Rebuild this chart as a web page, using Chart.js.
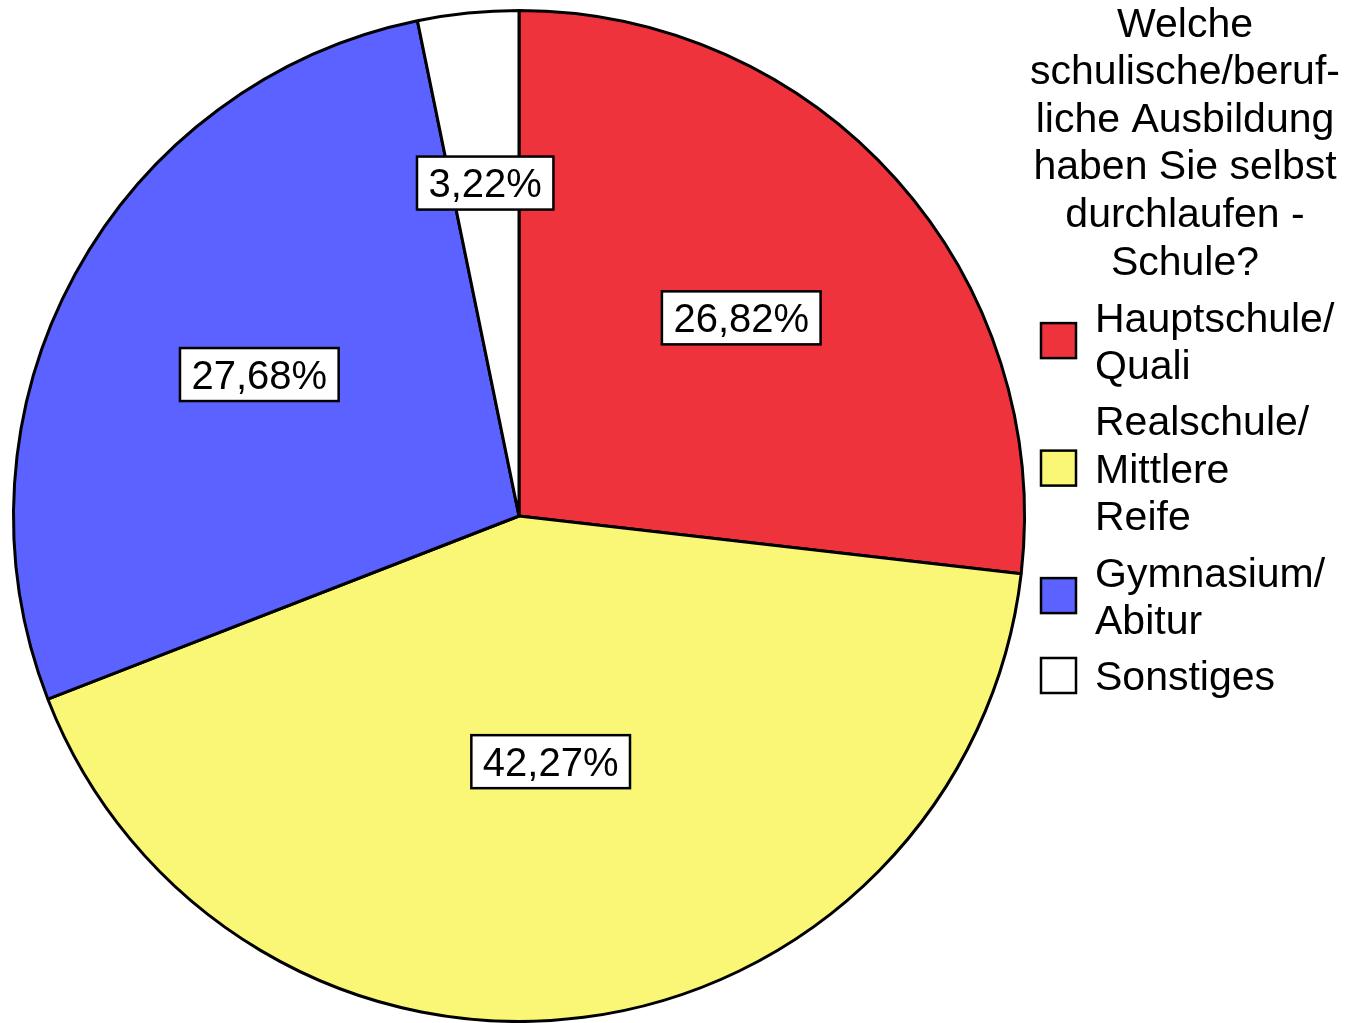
<!DOCTYPE html>
<html>
<head>
<meta charset="utf-8">
<script src="https://cdn.jsdelivr.net/npm/chart.js@4"></script>
<style>
  html, body { margin: 0; padding: 0; background: #fff; }
  #wrap { width: 1346px; height: 1023px; position: relative; }
</style>
</head>
<body>
<div id="wrap"><canvas id="pieChart"></canvas></div>
<script>
// Daten
const categories = [
  ['Hauptschule/', 'Quali'],
  ['Realschule/', 'Mittlere', 'Reife'],
  ['Gymnasium/', 'Abitur'],
  ['Sonstiges']
];
const percentages = [26.82, 42.27, 27.68, 3.22];
const sliceColors = ['#EF333C', '#F9F775', '#5C62FF', '#FFFFFF'];
const titleLines = ['Welche', 'schulische/beruf-', 'liche Ausbildung', 'haben Sie selbst', 'durchlaufen -', 'Schule?'];

const LABEL_FONT = '40px "Liberation Sans", Arial, sans-serif';
const LEGEND_FONT = '41px "Liberation Sans", Arial, sans-serif';

// Prozent-Labels in weissen Kästchen
const boxLabels = {
  id: 'boxLabels',
  afterDatasetsDraw(chart, args, opts) {
    const ctx = chart.ctx;
    const meta = chart.getDatasetMeta(0);
    ctx.save();
    ctx.font = LABEL_FONT;
    ctx.textAlign = 'center';
    ctx.textBaseline = 'alphabetic';
    meta.data.forEach((arc, i) => {
      const p = arc.getProps(['x', 'y', 'startAngle', 'endAngle', 'outerRadius'], true);
      const mid = (p.startAngle + p.endAngle) / 2;
      const r = p.outerRadius * opts.radii[i];
      const cx = p.x + Math.cos(mid) * r;
      const cy = p.y + Math.sin(mid) * r;
      const txt = percentages[i].toFixed(2).replace('.', ',') + '%';
      const w = ctx.measureText(txt).width + 23;
      const h = 53;
      ctx.fillStyle = '#fff';
      ctx.fillRect(cx - w / 2, cy - h / 2, w, h);
      ctx.lineWidth = 2.5;
      ctx.strokeStyle = '#000';
      ctx.strokeRect(cx - w / 2, cy - h / 2, w, h);
      ctx.fillStyle = '#000';
      ctx.fillText(txt, cx, cy + 14.3);
    });
    ctx.restore();
  }
};

// Legende rechts mit Titel
const sideLegend = {
  id: 'sideLegend',
  afterDraw(chart) {
    const ctx = chart.ctx;
    const step = 47.6;
    ctx.save();
    ctx.font = LEGEND_FONT;
    ctx.fillStyle = '#000';
    ctx.textBaseline = 'alphabetic';
    ctx.textAlign = 'center';
    titleLines.forEach((t, i) => ctx.fillText(t, 1185, 36.5 + i * step));

    ctx.textAlign = 'left';
    let y = 331.5;
    categories.forEach((lines, i) => {
      const first = y;
      lines.forEach((t, j) => {
        ctx.fillStyle = '#000';
        ctx.fillText(t, 1095, y);
        if (j < lines.length - 1) y += step;
      });
      const mid = (first + y) / 2 - 14.7;
      ctx.fillStyle = sliceColors[i];
      ctx.fillRect(1041, mid - 17.5, 35, 35);
      ctx.lineWidth = 2.5;
      ctx.strokeStyle = '#000';
      ctx.strokeRect(1041, mid - 17.5, 35, 35);
      y += step + 8.5;
    });
    ctx.restore();
  }
};

new Chart(document.getElementById('pieChart'), {
  type: 'pie',
  data: {
    labels: categories,
    datasets: [{
      data: percentages,
      backgroundColor: sliceColors,
      borderColor: '#000',
      borderWidth: 3
    }]
  },
  options: {
    responsive: true,
    maintainAspectRatio: false,
    animation: false,
    layout: { padding: { top: 9, bottom: -4, left: 10, right: 318 } },
    plugins: {
      legend: { display: false },
      tooltip: { enabled: false },
      boxLabels: { radii: [0.589, 0.49, 0.585, 0.662] }
    }
  },
  plugins: [boxLabels, sideLegend]
});
</script>
</body>
</html>
